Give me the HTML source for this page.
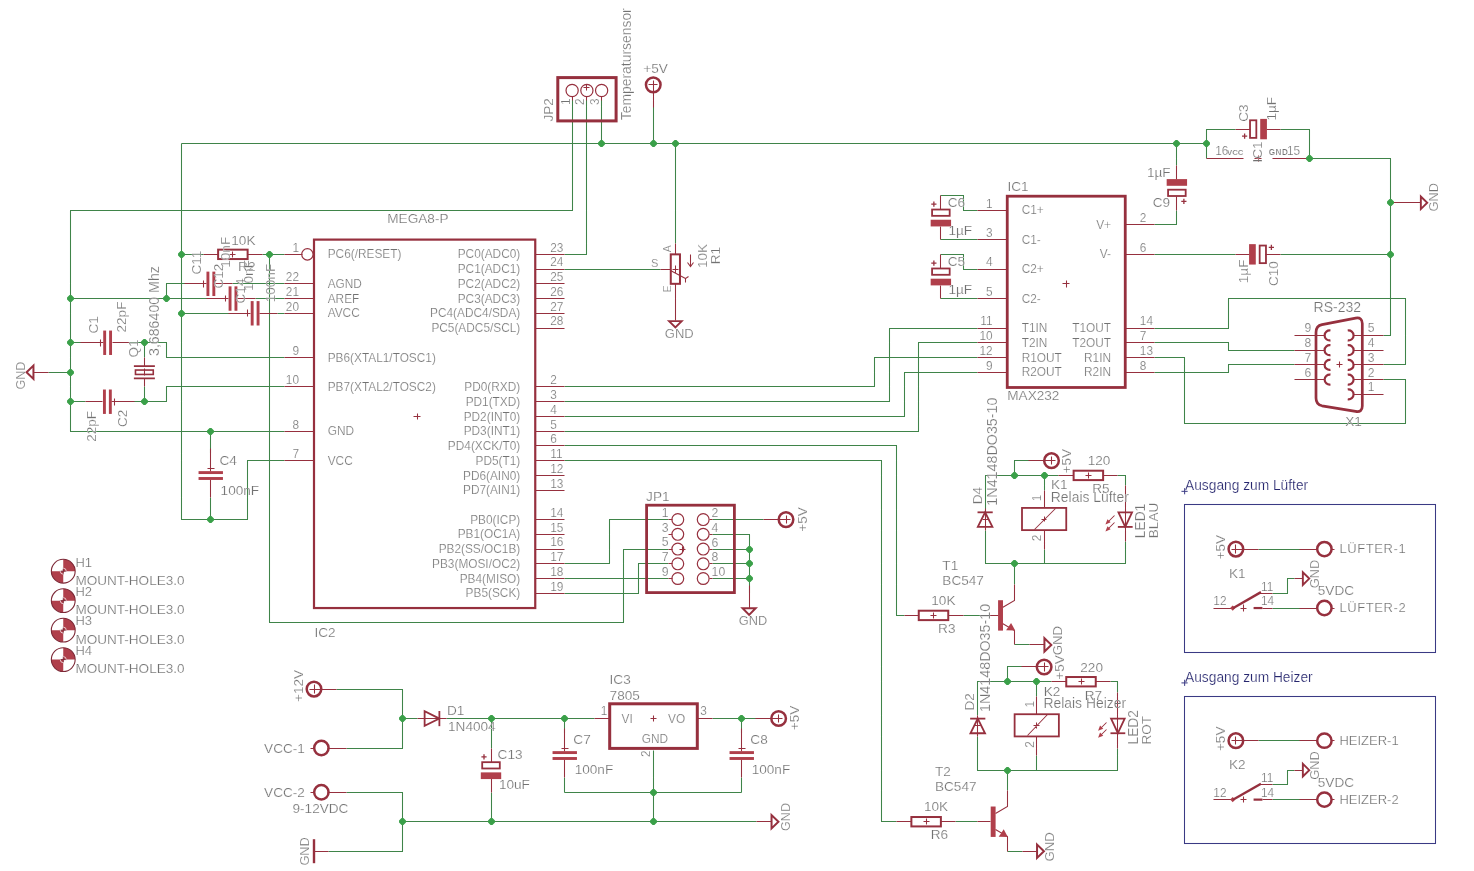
<!DOCTYPE html>
<html><head><meta charset="utf-8"><title>Schematic</title>
<style>
html,body{margin:0;padding:0;background:#fff;}
svg{display:block;font-family:"Liberation Sans",sans-serif;will-change:transform;}
</style></head><body>
<svg width="1474" height="871" viewBox="0 0 1474 871">
<rect width="1474" height="871" fill="#fff"/>
<path d="M572.5 99.5 L572.5 210.5 L70.5 210.5 L70.5 431.5 L284.5 431.5 M181.5 143.5 L181.5 519.5 L247.5 519.5 L247.5 460.5 L284.5 460.5 M210.5 431.5 L210.5 453.5 M210.5 497.5 L210.5 519.5 M181.5 254.5 L203.5 254.5 M262.5 254.5 L284.5 254.5 M269.5 254.5 L269.5 622.5 L623.5 622.5 L623.5 549.5 L668.5 549.5 M166.5 298.5 L166.5 283.5 L188.5 283.5 M232.5 283.5 L284.5 283.5 M70.5 298.5 L210.5 298.5 M255.5 298.5 L284.5 298.5 M181.5 313.5 L232.5 313.5 M277.5 313.5 L284.5 313.5 M70.5 342.5 L85.5 342.5 M129.5 342.5 L166.5 342.5 L166.5 357.5 L284.5 357.5 M70.5 401.5 L85.5 401.5 M129.5 401.5 L166.5 401.5 L166.5 386.5 L284.5 386.5 M144.5 342.5 L144.5 357.5 M144.5 386.5 L144.5 401.5 M70.5 372.5 L48.5 372.5 M586.5 99.5 L586.5 254.5 L564.5 254.5 M601.5 99.5 L601.5 143.5 M181.5 143.5 L1206.5 143.5 M653.5 106.5 L653.5 143.5 M675.5 143.5 L675.5 243.5 M564.5 269.5 L660.5 269.5 M668.5 519.5 L609.5 519.5 L609.5 563.5 L564.5 563.5 M668.5 563.5 L638.5 563.5 L638.5 593.5 L564.5 593.5 M668.5 578.5 L564.5 578.5 M712.5 519.5 L763.5 519.5 M712.5 534.5 L749.5 534.5 L749.5 593.5 M712.5 549.5 L749.5 549.5 M712.5 563.5 L749.5 563.5 M712.5 578.5 L749.5 578.5 M977.5 328.5 L889.5 328.5 L889.5 401.5 L564.5 401.5 M977.5 342.5 L918.5 342.5 L918.5 431.5 L564.5 431.5 M977.5 357.5 L874.5 357.5 L874.5 386.5 L564.5 386.5 M977.5 372.5 L904.5 372.5 L904.5 416.5 L564.5 416.5 M940.5 195.5 L963.5 195.5 L963.5 210.5 L977.5 210.5 M940.5 239.5 L977.5 239.5 M940.5 254.5 L963.5 254.5 L963.5 269.5 L977.5 269.5 M940.5 298.5 L977.5 298.5 M1154.5 224.5 L1176.5 224.5 L1176.5 210.5 M1176.5 165.5 L1176.5 143.5 M1206.5 158.5 L1206.5 129.5 L1235.5 129.5 M1280.5 129.5 L1309.5 129.5 L1309.5 158.5 M1309.5 158.5 L1390.5 158.5 L1390.5 335.5 L1383.5 335.5 M1154.5 254.5 L1235.5 254.5 M1280.5 254.5 L1390.5 254.5 M1383.5 364.5 L1405.5 364.5 L1405.5 298.5 L1228.5 298.5 L1228.5 328.5 L1154.5 328.5 M1383.5 379.5 L1405.5 379.5 L1405.5 423.5 L1184.5 423.5 L1184.5 357.5 L1154.5 357.5 M1294.5 350.5 L1228.5 350.5 L1228.5 342.5 L1154.5 342.5 M1294.5 364.5 L1228.5 364.5 L1228.5 372.5 L1154.5 372.5 M1029.5 460.5 L1014.5 460.5 L1014.5 475.5 M985.5 509.5 L985.5 475.5 L1058.5 475.5 M985.5 530.5 L985.5 563.5 L1125.5 563.5 L1125.5 541.5 M1044.5 475.5 L1044.5 490.5 M1044.5 549.5 L1044.5 563.5 M1117.5 475.5 L1125.5 475.5 L1125.5 485.5 M1014.5 584.5 L1014.5 563.5 M1014.5 644.5 L1029.5 644.5 M963.5 615.5 L985.5 615.5 M904.5 615.5 L896.5 615.5 L896.5 445.5 L564.5 445.5 M1022.5 666.5 L1007.5 666.5 L1007.5 681.5 M977.5 715.5 L977.5 681.5 L1051.5 681.5 M977.5 736.5 L977.5 770.5 L1117.5 770.5 L1117.5 748.5 M1036.5 681.5 L1036.5 696.5 M1036.5 755.5 L1036.5 770.5 M1110.5 681.5 L1117.5 681.5 L1117.5 692.5 M1007.5 790.5 L1007.5 770.5 M1007.5 851.5 L1022.5 851.5 M955.5 821.5 L977.5 821.5 M896.5 821.5 L881.5 821.5 L881.5 460.5 L564.5 460.5 M1258.5 549.5 L1302.5 549.5 M1272.5 593.5 L1287.5 593.5 L1287.5 578.5 L1294.5 578.5 M1272.5 608.5 L1302.5 608.5 M1258.5 740.5 L1302.5 740.5 M1272.5 784.5 L1287.5 784.5 L1287.5 770.5 L1294.5 770.5 M1272.5 799.5 L1302.5 799.5 M336.5 689.5 L402.5 689.5 L402.5 748.5 L346.5 748.5 M402.5 718.5 L417.5 718.5 M446.5 718.5 L594.5 718.5 M346.5 792.5 L402.5 792.5 L402.5 851.5 L328.5 851.5 M402.5 821.5 L756.5 821.5 M491.5 718.5 L491.5 748.5 M491.5 792.5 L491.5 821.5 M653.5 750.5 L653.5 821.5 M564.5 718.5 L564.5 733.5 M564.5 777.5 L564.5 792.5 M741.5 718.5 L741.5 733.5 M741.5 777.5 L741.5 792.5 M564.5 792.5 L741.5 792.5 M712.5 718.5 L756.5 718.5" fill="none" stroke="#3f8449" stroke-width="1.05"/>
<path d="M413.5 416.5 L420.5 416.5 M417.5 413.5 L417.5 419.5 M284.5 254.5 L302.5 254.5 M284.5 283.5 L314.5 283.5 M284.5 298.5 L314.5 298.5 M284.5 313.5 L314.5 313.5 M284.5 357.5 L314.5 357.5 M284.5 386.5 L314.5 386.5 M284.5 431.5 L314.5 431.5 M284.5 460.5 L314.5 460.5 M535.5 254.5 L564.5 254.5 M535.5 269.5 L564.5 269.5 M535.5 283.5 L564.5 283.5 M535.5 298.5 L564.5 298.5 M535.5 313.5 L564.5 313.5 M535.5 328.5 L564.5 328.5 M535.5 386.5 L564.5 386.5 M535.5 401.5 L564.5 401.5 M535.5 416.5 L564.5 416.5 M535.5 431.5 L564.5 431.5 M535.5 445.5 L564.5 445.5 M535.5 460.5 L564.5 460.5 M535.5 475.5 L564.5 475.5 M535.5 490.5 L564.5 490.5 M535.5 519.5 L564.5 519.5 M535.5 534.5 L564.5 534.5 M535.5 549.5 L564.5 549.5 M535.5 563.5 L564.5 563.5 M535.5 578.5 L564.5 578.5 M535.5 593.5 L564.5 593.5 M210.5 448.5 L210.5 471.5 M210.5 479.5 L210.5 497.5 M214.5 468.5 L207.5 468.5 M203.5 254.5 L218.5 254.5 M247.5 254.5 L262.5 254.5 M229.5 254.5 L235.5 254.5 M232.5 251.5 L232.5 257.5 M184.5 283.5 L206.5 283.5 M215.5 283.5 L232.5 283.5 M203.5 280.5 L203.5 287.5 M206.5 298.5 L228.5 298.5 M237.5 298.5 L255.5 298.5 M225.5 295.5 L225.5 301.5 M228.5 313.5 L250.5 313.5 M259.5 313.5 L277.5 313.5 M247.5 309.5 L247.5 316.5 M80.5 342.5 L103.5 342.5 M112.5 342.5 L129.5 342.5 M100.5 339.5 L100.5 346.5 M134.5 401.5 L111.5 401.5 M102.5 401.5 L85.5 401.5 M114.5 405.5 L114.5 398.5 M144.5 357.5 L144.5 366.5 M144.5 378.5 L144.5 386.5 M144.5 368.5 L144.5 375.5 M48.5 372.5 L33.5 372.5 M572.5 96.5 L572.5 100.5 M586.5 96.5 L586.5 100.5 M601.5 96.5 L601.5 100.5 M586.5 84.5 L586.5 90.5 M583.5 87.5 L589.5 87.5 M653.5 84.5 L653.5 107.5 M648.5 84.5 L657.5 84.5 M653.5 80.5 L653.5 89.5 M675.5 243.5 L675.5 254.5 M675.5 283.5 L675.5 298.5 M660.5 269.5 L670.5 269.5 M672.5 269.5 L678.5 269.5 M675.5 265.5 L675.5 272.5 M670.5 270.5 L685.5 278.5 M688.5 276.5 L685.5 278.5 L685.5 282.5 M690.5 254.5 L690.5 266.5 M687.5 262.5 L690.5 266.5 L693.5 262.5 M675.5 298.5 L675.5 320.5 M668.5 519.5 L672.5 519.5 M709.5 519.5 L712.5 519.5 M668.5 534.5 L672.5 534.5 M709.5 534.5 L712.5 534.5 M668.5 549.5 L672.5 549.5 M709.5 549.5 L712.5 549.5 M668.5 563.5 L672.5 563.5 M709.5 563.5 L712.5 563.5 M668.5 578.5 L672.5 578.5 M709.5 578.5 L712.5 578.5 M679.5 549.5 L685.5 549.5 M682.5 546.5 L682.5 552.5 M786.5 519.5 L763.5 519.5 M781.5 519.5 L790.5 519.5 M786.5 515.5 L786.5 523.5 M749.5 585.5 L749.5 608.5 M1062.5 283.5 L1069.5 283.5 M1066.5 280.5 L1066.5 287.5 M977.5 210.5 L1007.5 210.5 M977.5 239.5 L1007.5 239.5 M977.5 269.5 L1007.5 269.5 M977.5 298.5 L1007.5 298.5 M977.5 328.5 L1007.5 328.5 M977.5 342.5 L1007.5 342.5 M977.5 357.5 L1007.5 357.5 M977.5 372.5 L1007.5 372.5 M1125.5 224.5 L1154.5 224.5 M1125.5 254.5 L1154.5 254.5 M1125.5 328.5 L1154.5 328.5 M1125.5 342.5 L1154.5 342.5 M1125.5 357.5 L1154.5 357.5 M1125.5 372.5 L1154.5 372.5 M940.5 195.5 L940.5 209.5 M940.5 226.5 L940.5 239.5 M940.5 254.5 L940.5 268.5 M940.5 285.5 L940.5 298.5 M1176.5 210.5 L1176.5 196.5 M1176.5 179.5 L1176.5 165.5 M1235.5 129.5 L1250.5 129.5 M1266.5 129.5 L1280.5 129.5 M1206.5 158.5 L1243.5 158.5 M1272.5 158.5 L1309.5 158.5 M1254.5 158.5 L1261.5 158.5 M1258.5 155.5 L1258.5 161.5 M1390.5 202.5 L1405.5 202.5 M1390.5 202.5 L1420.5 202.5 M1280.5 254.5 L1265.5 254.5 M1249.5 254.5 L1235.5 254.5 M1336.5 364.5 L1342.5 364.5 M1339.5 361.5 L1339.5 367.5 M1383.5 335.5 L1353.5 335.5 M1383.5 350.5 L1353.5 350.5 M1383.5 364.5 L1353.5 364.5 M1383.5 379.5 L1353.5 379.5 M1383.5 394.5 L1353.5 394.5 M1294.5 335.5 L1324.5 335.5 M1294.5 350.5 L1324.5 350.5 M1294.5 364.5 L1324.5 364.5 M1294.5 379.5 L1324.5 379.5 M1051.5 460.5 L1028.5 460.5 M1047.5 460.5 L1055.5 460.5 M1051.5 456.5 L1051.5 464.5 M985.5 508.5 L985.5 530.5 M982.5 519.5 L988.5 519.5 M1044.5 490.5 L1044.5 507.5 M1044.5 530.5 L1044.5 549.5 M1034.5 529.5 L1055.5 508.5 M1041.5 519.5 L1046.5 519.5 M1044.5 516.5 L1044.5 521.5 M1058.5 475.5 L1073.5 475.5 M1103.5 475.5 L1117.5 475.5 M1085.5 475.5 L1091.5 475.5 M1088.5 472.5 L1088.5 478.5 M1125.5 485.5 L1125.5 541.5 M1114.5 515.5 L1108.5 521.5 M1114.5 522.5 L1108.5 528.5 M985.5 615.5 L998.5 615.5 M1002.5 607.5 L1014.5 600.5 L1014.5 584.5 M1002.5 623.5 L1014.5 630.5 L1014.5 644.5 M1029.5 644.5 L1044.5 644.5 M904.5 615.5 L918.5 615.5 M948.5 615.5 L963.5 615.5 M930.5 615.5 L936.5 615.5 M933.5 612.5 L933.5 618.5 M1044.5 666.5 L1021.5 666.5 M1039.5 666.5 L1048.5 666.5 M1044.5 662.5 L1044.5 671.5 M977.5 715.5 L977.5 736.5 M974.5 725.5 L980.5 725.5 M1036.5 696.5 L1036.5 714.5 M1036.5 736.5 L1036.5 755.5 M1027.5 735.5 L1047.5 714.5 M1033.5 725.5 L1039.5 725.5 M1036.5 722.5 L1036.5 728.5 M1051.5 681.5 L1066.5 681.5 M1095.5 681.5 L1110.5 681.5 M1078.5 681.5 L1084.5 681.5 M1081.5 678.5 L1081.5 684.5 M1117.5 692.5 L1117.5 748.5 M1106.5 722.5 L1100.5 728.5 M1106.5 729.5 L1100.5 735.5 M977.5 821.5 L990.5 821.5 M995.5 813.5 L1007.5 806.5 L1007.5 790.5 M995.5 829.5 L1007.5 836.5 L1007.5 851.5 M1022.5 851.5 L1036.5 851.5 M896.5 821.5 L911.5 821.5 M940.5 821.5 L955.5 821.5 M923.5 821.5 L929.5 821.5 M926.5 818.5 L926.5 824.5 M1235.5 549.5 L1258.5 549.5 M1231.5 549.5 L1240.5 549.5 M1235.5 544.5 L1235.5 553.5 M1317.5 549.5 L1299.5 549.5 M1334.5 549.5 L1331.5 549.5 M1213.5 608.5 L1232.5 608.5 M1258.5 593.5 L1272.5 593.5 M1262.5 608.5 L1272.5 608.5 M1240.5 608.5 L1246.5 608.5 M1243.5 604.5 L1243.5 611.5 M1294.5 578.5 L1302.5 578.5 M1317.5 608.5 L1299.5 608.5 M1334.5 608.5 L1331.5 608.5 M1235.5 740.5 L1258.5 740.5 M1231.5 740.5 L1240.5 740.5 M1235.5 736.5 L1235.5 744.5 M1317.5 740.5 L1299.5 740.5 M1334.5 740.5 L1331.5 740.5 M1213.5 799.5 L1232.5 799.5 M1258.5 784.5 L1272.5 784.5 M1262.5 799.5 L1272.5 799.5 M1240.5 799.5 L1246.5 799.5 M1243.5 796.5 L1243.5 802.5 M1294.5 770.5 L1302.5 770.5 M1317.5 799.5 L1299.5 799.5 M1334.5 799.5 L1331.5 799.5 M314.5 689.5 L336.5 689.5 M309.5 689.5 L318.5 689.5 M314.5 684.5 L314.5 693.5 M327.5 748.5 L346.5 748.5 M310.5 748.5 L314.5 748.5 M417.5 718.5 L446.5 718.5 M327.5 792.5 L346.5 792.5 M310.5 792.5 L314.5 792.5 M314.5 851.5 L328.5 851.5 M756.5 821.5 L771.5 821.5 M491.5 748.5 L491.5 762.5 M491.5 778.5 L491.5 792.5 M650.5 718.5 L656.5 718.5 M653.5 715.5 L653.5 721.5 M594.5 718.5 L609.5 718.5 M697.5 718.5 L712.5 718.5 M564.5 728.5 L564.5 751.5 M564.5 759.5 L564.5 777.5 M568.5 748.5 L561.5 748.5 M741.5 728.5 L741.5 751.5 M741.5 759.5 L741.5 777.5 M745.5 748.5 L738.5 748.5 M778.5 718.5 L755.5 718.5 M774.5 718.5 L782.5 718.5 M778.5 714.5 L778.5 722.5" fill="none" stroke="#96303e" stroke-width="1.05"/>
<g fill="#b03f4b" stroke="none">
<rect x="198.55" y="471.14" width="24.4" height="2.9"/>
<rect x="198.55" y="477.04" width="24.4" height="2.9"/>
<rect x="206.47" y="271.62" width="2.9" height="24.4"/>
<rect x="212.38" y="271.62" width="2.9" height="24.4"/>
<rect x="228.6" y="286.36" width="2.9" height="24.4"/>
<rect x="234.5" y="286.36" width="2.9" height="24.4"/>
<rect x="250.72" y="301.1" width="2.9" height="24.4"/>
<rect x="256.62" y="301.1" width="2.9" height="24.4"/>
<rect x="103.22" y="330.57" width="2.9" height="24.4"/>
<rect x="109.12" y="330.57" width="2.9" height="24.4"/>
<rect x="108.88" y="389.52" width="2.9" height="24.4"/>
<rect x="102.97" y="389.52" width="2.9" height="24.4"/>
<rect x="930.67" y="219.74" width="20.4" height="6.7"/>
<rect x="930.67" y="278.69" width="20.4" height="6.7"/>
<rect x="1166.67" y="179.1" width="20.4" height="6.7"/>
<rect x="1260.22" y="118.89" width="6.7" height="20.4"/>
<rect x="1249.08" y="244.15" width="6.7" height="20.4"/>
<path d="M1105.45 524.42 L1107.45 519.22 L1110.65 522.32 Z"/>
<path d="M1105.45 531.42 L1107.45 526.22 L1110.65 529.32 Z"/>
<rect x="998.08" y="600.21" width="4.9" height="30.4"/>
<path d="M1015.23 630.56 L1006.08 630.36 L1011.08 623.01 Z"/>
<path d="M1098.08 730.73 L1100.08 725.53 L1103.27 728.63 Z"/>
<path d="M1098.08 737.73 L1100.08 732.53 L1103.27 735.63 Z"/>
<rect x="990.7" y="806.52" width="4.9" height="30.4"/>
<path d="M1007.85 836.88 L998.7 836.68 L1003.7 829.33 Z"/>
<path d="M1230.12 608.04 l2.6 -2.6 l2.6 2.6 l-2.6 2.6 Z"/>
<path d="M1230.12 799.62 l2.6 -2.6 l2.6 2.6 l-2.6 2.6 Z"/>
<path d="M63.25 571.2 V559.3 A11.9 11.9 0 0 1 75.15 571.2 Z M63.25 571.2 V583.1 A11.9 11.9 0 0 1 51.35 571.2 Z"/>
<path d="M63.25 600.67 V588.77 A11.9 11.9 0 0 1 75.15 600.67 Z M63.25 600.67 V612.57 A11.9 11.9 0 0 1 51.35 600.67 Z"/>
<path d="M63.25 630.14 V618.24 A11.9 11.9 0 0 1 75.15 630.14 Z M63.25 630.14 V642.04 A11.9 11.9 0 0 1 51.35 630.14 Z"/>
<path d="M63.25 659.62 V647.72 A11.9 11.9 0 0 1 75.15 659.62 Z M63.25 659.62 V671.52 A11.9 11.9 0 0 1 51.35 659.62 Z"/>
<rect x="480.8" y="772.38" width="20.4" height="6.7"/>
<rect x="552.55" y="751.14" width="24.4" height="2.9"/>
<rect x="552.55" y="757.04" width="24.4" height="2.9"/>
<rect x="729.55" y="751.14" width="24.4" height="2.9"/>
<rect x="729.55" y="757.04" width="24.4" height="2.9"/>
</g>
<g fill="none" stroke="#96303e" stroke-linejoin="miter">
<rect x="314" y="239.61" width="221.25" height="368.43" stroke-width="2.2"/>
<rect x="218.12" y="249.65" width="29.5" height="9.4" stroke-width="2"/>
<path d="M133.88 366.05H154.88M133.88 378.45H154.88" stroke-width="1.8"/>
<rect x="135.47" y="370.05" width="17.8" height="4.4" stroke-width="1.6"/>
<path d="M33.45 378.95 L33.45 365.55 L26.55 372.25 Z" stroke-width="2" fill="none"/>
<rect x="557.8" y="77.6" width="58.3" height="43.3" stroke-width="3"/>
<circle cx="653.25" cy="84.87" r="7.3" stroke-width="2.5"/>
<rect x="670.77" y="254.35" width="9.2" height="29.47" stroke-width="2"/>
<path d="M669.08 321.1 L681.67 321.1 L675.38 327.5 Z" stroke-width="1.9" fill="none"/>
<rect x="646.6" y="505.2" width="87.8" height="87.4" stroke-width="2.8"/>
<circle cx="786" cy="519.62" r="7.3" stroke-width="2.5"/>
<path d="M742.62 608.3 L755.62 608.3 L749.12 614.9 Z" stroke-width="2" fill="none"/>
<rect x="1007.25" y="196.2" width="118" height="191.28" stroke-width="2.8"/>
<rect x="932.08" y="209.54" width="17.6" height="6.3" stroke-width="1.8"/>
<path d="M931.27 204.14H936.48M933.88 201.54V206.74" stroke-width="1.3"/>
<rect x="932.08" y="268.49" width="17.6" height="6.3" stroke-width="1.8"/>
<path d="M931.27 263.09H936.48M933.88 260.49V265.69" stroke-width="1.3"/>
<rect x="1168.08" y="189.7" width="17.6" height="6.3" stroke-width="1.8"/>
<path d="M1181.28 201.4H1186.47M1183.88 198.8V204" stroke-width="1.3"/>
<rect x="1250.03" y="120.29" width="6.3" height="17.6" stroke-width="1.8"/>
<path d="M1242.03 136.09H1247.22M1244.62 133.49V138.69" stroke-width="1.3"/>
<path d="M1420.85 196.47 L1420.85 209.07 L1427.25 202.77 Z" stroke-width="1.9" fill="none"/>
<rect x="1259.67" y="245.55" width="6.3" height="17.6" stroke-width="1.8"/>
<path d="M1268.78 247.35H1273.97M1271.38 244.75V249.95" stroke-width="1.3"/>
<path d="M1322 324.6 L1355.6 318.1 Q1362.3 317 1362.3 323.6 L1362.3 406 Q1362.3 412.6 1355.6 411.4 L1322 405.8 Q1316 404.6 1316 398 L1316 332.4 Q1316 325.8 1322 324.6 Z" stroke-width="2.7"/>
<path d="M1347.73 330.48 A5 5 0 1 1 1347.73 340.33" stroke-width="2.2"/>
<path d="M1347.73 345.22 A5 5 0 1 1 1347.73 355.06" stroke-width="2.2"/>
<path d="M1347.73 359.95 A5 5 0 1 1 1347.73 369.8" stroke-width="2.2"/>
<path d="M1347.73 374.69 A5 5 0 1 1 1347.73 384.54" stroke-width="2.2"/>
<path d="M1347.73 389.43 A5 5 0 1 1 1347.73 399.28" stroke-width="2.2"/>
<path d="M1330.47 330.48 A5 5 0 1 0 1330.47 340.33" stroke-width="2.2"/>
<path d="M1330.47 345.22 A5 5 0 1 0 1330.47 355.06" stroke-width="2.2"/>
<path d="M1330.47 359.95 A5 5 0 1 0 1330.47 369.8" stroke-width="2.2"/>
<path d="M1330.47 374.69 A5 5 0 1 0 1330.47 384.54" stroke-width="2.2"/>
<circle cx="1051.5" cy="460.67" r="7.3" stroke-width="2.5"/>
<path d="M977.83 526.92 L992.42 526.92 L985.12 512.32 Z" stroke-width="1.8" fill="none"/>
<path d="M977.52 512.32H992.73" stroke-width="1.8"/>
<rect x="1022" y="507.92" width="44.25" height="22.2" stroke-width="1.8"/>
<rect x="1073.62" y="470.7" width="29.5" height="9.4" stroke-width="2"/>
<path d="M1118.45 512.32 L1132.05 512.32 L1125.25 526.92 Z" stroke-width="1.8" fill="none"/>
<path d="M1117.85 526.92H1132.65" stroke-width="1.8"/>
<path d="M1044.42 638.18 L1044.42 651.58 L1051.33 644.88 Z" stroke-width="2" fill="none"/>
<rect x="918.75" y="610.71" width="29.5" height="9.4" stroke-width="2"/>
<circle cx="1044.12" cy="666.99" r="7.3" stroke-width="2.5"/>
<path d="M970.45 733.23 L985.05 733.23 L977.75 718.63 Z" stroke-width="1.8" fill="none"/>
<path d="M970.15 718.63H985.35" stroke-width="1.8"/>
<rect x="1014.62" y="714.23" width="44.25" height="22.2" stroke-width="1.8"/>
<rect x="1066.25" y="677.02" width="29.5" height="9.4" stroke-width="2"/>
<path d="M1111.08 718.63 L1124.67 718.63 L1117.88 733.23 Z" stroke-width="1.8" fill="none"/>
<path d="M1110.47 733.23H1125.28" stroke-width="1.8"/>
<path d="M1037.05 844.5 L1037.05 857.9 L1043.95 851.2 Z" stroke-width="2" fill="none"/>
<rect x="911.38" y="817.02" width="29.5" height="9.4" stroke-width="2"/>
<circle cx="1235.88" cy="549.09" r="7.3" stroke-width="2.5"/>
<circle cx="1324.38" cy="549.09" r="7.2" stroke-width="2.5"/>
<path d="M1232.92 608.24 L1260.95 592.1" stroke-width="2.4"/>
<path d="M1253.58 608.04H1262.42" stroke-width="2.2"/>
<path d="M1302.85 572.26 L1302.85 584.86 L1309.25 578.56 Z" stroke-width="1.9" fill="none"/>
<circle cx="1324.38" cy="608.04" r="7.2" stroke-width="2.5"/>
<circle cx="1235.88" cy="740.67" r="7.3" stroke-width="2.5"/>
<circle cx="1324.38" cy="740.67" r="7.2" stroke-width="2.5"/>
<path d="M1232.92 799.82 L1260.95 783.68" stroke-width="2.4"/>
<path d="M1253.58 799.62H1262.42" stroke-width="2.2"/>
<path d="M1302.85 763.85 L1302.85 776.44 L1309.25 770.14 Z" stroke-width="1.9" fill="none"/>
<circle cx="1324.38" cy="799.62" r="7.2" stroke-width="2.5"/>
<circle cx="314" cy="689.09" r="7.3" stroke-width="2.5"/>
<circle cx="321.38" cy="748.04" r="7.2" stroke-width="2.5"/>
<path d="M424.62 711.27 L424.62 725.87 L439.38 718.57 Z" stroke-width="1.8" fill="none"/>
<path d="M439.38 710.97V726.17" stroke-width="1.8"/>
<circle cx="321.38" cy="792.25" r="7.2" stroke-width="2.5"/>
<path d="M314 839.2V863.2" stroke-width="2.4"/>
<path d="M771.55 815.02 L771.55 828.43 L778.45 821.73 Z" stroke-width="2" fill="none"/>
<rect x="482.2" y="762.18" width="17.6" height="6.3" stroke-width="1.8"/>
<path d="M481.4 756.78H486.6M484 754.18V759.38" stroke-width="1.3"/>
<rect x="609.7" y="703.8" width="87.6" height="44.6" stroke-width="3"/>
<circle cx="778.62" cy="718.57" r="7.3" stroke-width="2.5"/>
</g>
<circle cx="307.4" cy="254.35" r="5.7" fill="none" stroke="#96303e" stroke-width="1.2"/>
<circle cx="572.12" cy="90.5" r="6.1" fill="none" stroke="#96303e" stroke-width="1.2"/>
<circle cx="586.88" cy="90.5" r="6.1" fill="none" stroke="#96303e" stroke-width="1.2"/>
<circle cx="601.62" cy="90.5" r="6.1" fill="none" stroke="#96303e" stroke-width="1.2"/>
<circle cx="677.8" cy="519.62" r="5.9" fill="none" stroke="#96303e" stroke-width="1.2"/>
<circle cx="703.2" cy="519.62" r="5.9" fill="none" stroke="#96303e" stroke-width="1.2"/>
<circle cx="677.8" cy="534.35" r="5.9" fill="none" stroke="#96303e" stroke-width="1.2"/>
<circle cx="703.2" cy="534.35" r="5.9" fill="none" stroke="#96303e" stroke-width="1.2"/>
<circle cx="677.8" cy="549.09" r="5.9" fill="none" stroke="#96303e" stroke-width="1.2"/>
<circle cx="703.2" cy="549.09" r="5.9" fill="none" stroke="#96303e" stroke-width="1.2"/>
<circle cx="677.8" cy="563.83" r="5.9" fill="none" stroke="#96303e" stroke-width="1.2"/>
<circle cx="703.2" cy="563.83" r="5.9" fill="none" stroke="#96303e" stroke-width="1.2"/>
<circle cx="677.8" cy="578.56" r="5.9" fill="none" stroke="#96303e" stroke-width="1.2"/>
<circle cx="703.2" cy="578.56" r="5.9" fill="none" stroke="#96303e" stroke-width="1.2"/>
<rect x="1184.5" y="504.5" width="251" height="148" fill="none" stroke="#3a3a84" stroke-width="1.05"/>
<path d="M1181.45 491.34H1187.65M1184.65 488.14V494.34" fill="none" stroke="#3a3a84" stroke-width="1"/>
<rect x="1184.5" y="696.5" width="251" height="147" fill="none" stroke="#3a3a84" stroke-width="1.05"/>
<path d="M1181.45 682.92H1187.65M1184.65 679.72V685.92" fill="none" stroke="#3a3a84" stroke-width="1"/>
<circle cx="63.25" cy="571.2" r="11.9" fill="none" stroke="#7c2836" stroke-width="1.1"/>
<path d="M59.85 571.2H66.65M63.25 567.8V574.6" fill="none" stroke="#7c2836" stroke-width="1"/>
<circle cx="63.25" cy="571.2" r="3" fill="none" stroke="#fff" stroke-opacity="0.8" stroke-width="0.9"/>
<circle cx="63.25" cy="600.67" r="11.9" fill="none" stroke="#7c2836" stroke-width="1.1"/>
<path d="M59.85 600.67H66.65M63.25 597.27V604.07" fill="none" stroke="#7c2836" stroke-width="1"/>
<circle cx="63.25" cy="600.67" r="3" fill="none" stroke="#fff" stroke-opacity="0.8" stroke-width="0.9"/>
<circle cx="63.25" cy="630.14" r="11.9" fill="none" stroke="#7c2836" stroke-width="1.1"/>
<path d="M59.85 630.14H66.65M63.25 626.74V633.54" fill="none" stroke="#7c2836" stroke-width="1"/>
<circle cx="63.25" cy="630.14" r="3" fill="none" stroke="#fff" stroke-opacity="0.8" stroke-width="0.9"/>
<circle cx="63.25" cy="659.62" r="11.9" fill="none" stroke="#7c2836" stroke-width="1.1"/>
<path d="M59.85 659.62H66.65M63.25 656.22V663.02" fill="none" stroke="#7c2836" stroke-width="1"/>
<circle cx="63.25" cy="659.62" r="3" fill="none" stroke="#fff" stroke-opacity="0.8" stroke-width="0.9"/>
<path d="M67.05 297.57 L69.57 295.05 L71.43 295.05 L73.95 297.57 L73.95 299.43 L71.43 301.95 L69.57 301.95 L67.05 299.43Z M67.05 341.57 L69.57 339.05 L71.43 339.05 L73.95 341.57 L73.95 343.43 L71.43 345.95 L69.57 345.95 L67.05 343.43Z M67.05 371.57 L69.57 369.05 L71.43 369.05 L73.95 371.57 L73.95 373.43 L71.43 375.95 L69.57 375.95 L67.05 373.43Z M67.05 400.57 L69.57 398.05 L71.43 398.05 L73.95 400.57 L73.95 402.43 L71.43 404.95 L69.57 404.95 L67.05 402.43Z M207.05 430.57 L209.57 428.05 L211.43 428.05 L213.95 430.57 L213.95 432.43 L211.43 434.95 L209.57 434.95 L207.05 432.43Z M178.05 253.57 L180.57 251.05 L182.43 251.05 L184.95 253.57 L184.95 255.43 L182.43 257.95 L180.57 257.95 L178.05 255.43Z M178.05 312.57 L180.57 310.05 L182.43 310.05 L184.95 312.57 L184.95 314.43 L182.43 316.95 L180.57 316.95 L178.05 314.43Z M207.05 518.57 L209.57 516.05 L211.43 516.05 L213.95 518.57 L213.95 520.43 L211.43 522.95 L209.57 522.95 L207.05 520.43Z M266.05 253.57 L268.57 251.05 L270.43 251.05 L272.95 253.57 L272.95 255.43 L270.43 257.95 L268.57 257.95 L266.05 255.43Z M163.05 297.57 L165.57 295.05 L167.43 295.05 L169.95 297.57 L169.95 299.43 L167.43 301.95 L165.57 301.95 L163.05 299.43Z M141.05 341.57 L143.57 339.05 L145.43 339.05 L147.95 341.57 L147.95 343.43 L145.43 345.95 L143.57 345.95 L141.05 343.43Z M141.05 400.57 L143.57 398.05 L145.43 398.05 L147.95 400.57 L147.95 402.43 L145.43 404.95 L143.57 404.95 L141.05 402.43Z M598.05 142.57 L600.57 140.05 L602.43 140.05 L604.95 142.57 L604.95 144.43 L602.43 146.95 L600.57 146.95 L598.05 144.43Z M650.05 142.57 L652.57 140.05 L654.43 140.05 L656.95 142.57 L656.95 144.43 L654.43 146.95 L652.57 146.95 L650.05 144.43Z M672.05 142.57 L674.57 140.05 L676.43 140.05 L678.95 142.57 L678.95 144.43 L676.43 146.95 L674.57 146.95 L672.05 144.43Z M746.05 548.57 L748.57 546.05 L750.43 546.05 L752.95 548.57 L752.95 550.43 L750.43 552.95 L748.57 552.95 L746.05 550.43Z M746.05 562.57 L748.57 560.05 L750.43 560.05 L752.95 562.57 L752.95 564.43 L750.43 566.95 L748.57 566.95 L746.05 564.43Z M746.05 577.57 L748.57 575.05 L750.43 575.05 L752.95 577.57 L752.95 579.43 L750.43 581.95 L748.57 581.95 L746.05 579.43Z M1173.05 142.57 L1175.57 140.05 L1177.43 140.05 L1179.95 142.57 L1179.95 144.43 L1177.43 146.95 L1175.57 146.95 L1173.05 144.43Z M1203.05 142.57 L1205.57 140.05 L1207.43 140.05 L1209.95 142.57 L1209.95 144.43 L1207.43 146.95 L1205.57 146.95 L1203.05 144.43Z M1306.05 157.57 L1308.57 155.05 L1310.43 155.05 L1312.95 157.57 L1312.95 159.43 L1310.43 161.95 L1308.57 161.95 L1306.05 159.43Z M1387.05 201.57 L1389.57 199.05 L1391.43 199.05 L1393.95 201.57 L1393.95 203.43 L1391.43 205.95 L1389.57 205.95 L1387.05 203.43Z M1387.05 253.57 L1389.57 251.05 L1391.43 251.05 L1393.95 253.57 L1393.95 255.43 L1391.43 257.95 L1389.57 257.95 L1387.05 255.43Z M1011.05 474.57 L1013.57 472.05 L1015.43 472.05 L1017.95 474.57 L1017.95 476.43 L1015.43 478.95 L1013.57 478.95 L1011.05 476.43Z M1041.05 474.57 L1043.57 472.05 L1045.43 472.05 L1047.95 474.57 L1047.95 476.43 L1045.43 478.95 L1043.57 478.95 L1041.05 476.43Z M1011.05 562.57 L1013.57 560.05 L1015.43 560.05 L1017.95 562.57 L1017.95 564.43 L1015.43 566.95 L1013.57 566.95 L1011.05 564.43Z M1004.05 680.57 L1006.57 678.05 L1008.43 678.05 L1010.95 680.57 L1010.95 682.43 L1008.43 684.95 L1006.57 684.95 L1004.05 682.43Z M1033.05 680.57 L1035.57 678.05 L1037.43 678.05 L1039.95 680.57 L1039.95 682.43 L1037.43 684.95 L1035.57 684.95 L1033.05 682.43Z M1004.05 769.57 L1006.57 767.05 L1008.43 767.05 L1010.95 769.57 L1010.95 771.43 L1008.43 773.95 L1006.57 773.95 L1004.05 771.43Z M399.05 717.57 L401.57 715.05 L403.43 715.05 L405.95 717.57 L405.95 719.43 L403.43 721.95 L401.57 721.95 L399.05 719.43Z M488.05 717.57 L490.57 715.05 L492.43 715.05 L494.95 717.57 L494.95 719.43 L492.43 721.95 L490.57 721.95 L488.05 719.43Z M561.05 717.57 L563.57 715.05 L565.43 715.05 L567.95 717.57 L567.95 719.43 L565.43 721.95 L563.57 721.95 L561.05 719.43Z M399.05 820.57 L401.57 818.05 L403.43 818.05 L405.95 820.57 L405.95 822.43 L403.43 824.95 L401.57 824.95 L399.05 822.43Z M488.05 820.57 L490.57 818.05 L492.43 818.05 L494.95 820.57 L494.95 822.43 L492.43 824.95 L490.57 824.95 L488.05 822.43Z M650.05 820.57 L652.57 818.05 L654.43 818.05 L656.95 820.57 L656.95 822.43 L654.43 824.95 L652.57 824.95 L650.05 822.43Z M650.05 791.57 L652.57 789.05 L654.43 789.05 L656.95 791.57 L656.95 793.43 L654.43 795.95 L652.57 795.95 L650.05 793.43Z M738.05 717.57 L740.57 715.05 L742.43 715.05 L744.95 717.57 L744.95 719.43 L742.43 721.95 L740.57 721.95 L738.05 719.43Z" fill="#3aa049"/>
<g fill="#727272" font-size="13.6" stroke="#fff" stroke-width="0.22">
<text x="387.3" y="223.2">MEGA8-P</text>
<text x="314.5" y="637">IC2</text>
<text x="299" y="251.75" text-anchor="end" font-size="11.85">1</text>
<text x="327.7" y="258.45" font-size="11.85">PC6(/RESET)</text>
<text x="299" y="281.22" text-anchor="end" font-size="11.85">22</text>
<text x="327.7" y="287.92" font-size="11.85">AGND</text>
<text x="299" y="295.96" text-anchor="end" font-size="11.85">21</text>
<text x="327.7" y="302.66" font-size="11.85">AREF</text>
<text x="299" y="310.7" text-anchor="end" font-size="11.85">20</text>
<text x="327.7" y="317.4" font-size="11.85">AVCC</text>
<text x="299" y="354.91" text-anchor="end" font-size="11.85">9</text>
<text x="327.7" y="361.61" font-size="11.85">PB6(XTAL1/TOSC1)</text>
<text x="299" y="384.38" text-anchor="end" font-size="11.85">10</text>
<text x="327.7" y="391.08" font-size="11.85">PB7(XTAL2/TOSC2)</text>
<text x="299" y="428.59" text-anchor="end" font-size="11.85">8</text>
<text x="327.7" y="435.29" font-size="11.85">GND</text>
<text x="299" y="458.07" text-anchor="end" font-size="11.85">7</text>
<text x="327.7" y="464.77" font-size="11.85">VCC</text>
<text x="550.25" y="251.75" font-size="11.85">23</text>
<text x="520.25" y="258.45" text-anchor="end" font-size="11.85">PC0(ADC0)</text>
<text x="550.25" y="266.49" font-size="11.85">24</text>
<text x="520.25" y="273.19" text-anchor="end" font-size="11.85">PC1(ADC1)</text>
<text x="550.25" y="281.22" font-size="11.85">25</text>
<text x="520.25" y="287.92" text-anchor="end" font-size="11.85">PC2(ADC2)</text>
<text x="550.25" y="295.96" font-size="11.85">26</text>
<text x="520.25" y="302.66" text-anchor="end" font-size="11.85">PC3(ADC3)</text>
<text x="550.25" y="310.7" font-size="11.85">27</text>
<text x="520.25" y="317.4" text-anchor="end" font-size="11.85">PC4(ADC4/SDA)</text>
<text x="550.25" y="325.44" font-size="11.85">28</text>
<text x="520.25" y="332.14" text-anchor="end" font-size="11.85">PC5(ADC5/SCL)</text>
<text x="550.25" y="384.38" font-size="11.85">2</text>
<text x="520.25" y="391.08" text-anchor="end" font-size="11.85">PD0(RXD)</text>
<text x="550.25" y="399.12" font-size="11.85">3</text>
<text x="520.25" y="405.82" text-anchor="end" font-size="11.85">PD1(TXD)</text>
<text x="550.25" y="413.86" font-size="11.85">4</text>
<text x="520.25" y="420.56" text-anchor="end" font-size="11.85">PD2(INT0)</text>
<text x="550.25" y="428.59" font-size="11.85">5</text>
<text x="520.25" y="435.29" text-anchor="end" font-size="11.85">PD3(INT1)</text>
<text x="550.25" y="443.33" font-size="11.85">6</text>
<text x="520.25" y="450.03" text-anchor="end" font-size="11.85">PD4(XCK/T0)</text>
<text x="550.25" y="458.07" font-size="11.85">11</text>
<text x="520.25" y="464.77" text-anchor="end" font-size="11.85">PD5(T1)</text>
<text x="550.25" y="472.8" font-size="11.85">12</text>
<text x="520.25" y="479.5" text-anchor="end" font-size="11.85">PD6(AIN0)</text>
<text x="550.25" y="487.54" font-size="11.85">13</text>
<text x="520.25" y="494.24" text-anchor="end" font-size="11.85">PD7(AIN1)</text>
<text x="550.25" y="517.02" font-size="11.85">14</text>
<text x="520.25" y="523.72" text-anchor="end" font-size="11.85">PB0(ICP)</text>
<text x="550.25" y="531.75" font-size="11.85">15</text>
<text x="520.25" y="538.45" text-anchor="end" font-size="11.85">PB1(OC1A)</text>
<text x="550.25" y="546.49" font-size="11.85">16</text>
<text x="520.25" y="553.19" text-anchor="end" font-size="11.85">PB2(SS/OC1B)</text>
<text x="550.25" y="561.23" font-size="11.85">17</text>
<text x="520.25" y="567.93" text-anchor="end" font-size="11.85">PB3(MOSI/OC2)</text>
<text x="550.25" y="575.96" font-size="11.85">18</text>
<text x="520.25" y="582.66" text-anchor="end" font-size="11.85">PB4(MISO)</text>
<text x="550.25" y="590.7" font-size="11.85">19</text>
<text x="520.25" y="597.4" text-anchor="end" font-size="11.85">PB5(SCK)</text>
<text x="219.4" y="464.5">C4</text>
<text x="220.6" y="494.7">100nF</text>
<text x="231.3" y="244.5">10K</text>
<text x="238.1" y="271.2">R2</text>
<text x="200.8" y="274.5" transform="rotate(-90 200.8 274.5)">C11</text>
<text x="223.2" y="288.5" transform="rotate(-90 223.2 288.5)">C12</text>
<text x="245" y="303.5" transform="rotate(-90 245 303.5)">C14</text>
<text x="230" y="267.8" transform="rotate(-90 230 267.8)">10nF</text>
<text x="252.8" y="291" transform="rotate(-90 252.8 291)">10nF</text>
<text x="274.9" y="302.3" transform="rotate(-90 274.9 302.3)">100nF</text>
<text x="98" y="333.6" transform="rotate(-90 98 333.6)">C1</text>
<text x="125.6" y="332.5" transform="rotate(-90 125.6 332.5)">22pF</text>
<text x="127.4" y="427" transform="rotate(-90 127.4 427)">C2</text>
<text x="95.6" y="441.8" transform="rotate(-90 95.6 441.8)">22pF</text>
<text x="137.8" y="357.5" transform="rotate(-90 137.8 357.5)">Q1</text>
<text x="159.3" y="356" font-size="14.2" transform="rotate(-90 159.3 356)">3,686400 Mhz</text>
<text x="25.1" y="389.6" font-size="12.6" transform="rotate(-90 25.1 389.6)">GND</text>
<text x="569.52" y="105" font-size="11.85" transform="rotate(-90 569.52 105)">1</text>
<text x="584.27" y="105" font-size="11.85" transform="rotate(-90 584.27 105)">2</text>
<text x="599.02" y="105" font-size="11.85" transform="rotate(-90 599.02 105)">3</text>
<text x="553.5" y="121.6" transform="rotate(-90 553.5 121.6)">JP2</text>
<text x="631.3" y="120.2" font-size="13.9" transform="rotate(-90 631.3 120.2)">Temperatursensor</text>
<text x="643.3" y="72.6">+5V</text>
<text x="651" y="266.6" font-size="11">S</text>
<text x="671.5" y="252.2" font-size="10.5" transform="rotate(-90 671.5 252.2)">A</text>
<text x="671.5" y="292.2" font-size="10.5" transform="rotate(-90 671.5 292.2)">E</text>
<text x="706.9" y="268" transform="rotate(-90 706.9 268)">10K</text>
<text x="720.3" y="264.2" transform="rotate(-90 720.3 264.2)">R1</text>
<text x="664.8" y="338.4" font-size="13">GND</text>
<text x="646.1" y="500.7">JP1</text>
<text x="668.6" y="517.02" text-anchor="end" font-size="12.25">1</text>
<text x="711.6" y="517.22" font-size="12.25">2</text>
<text x="668.6" y="531.75" text-anchor="end" font-size="12.25">3</text>
<text x="711.6" y="531.95" font-size="12.25">4</text>
<text x="668.6" y="546.49" text-anchor="end" font-size="12.25">5</text>
<text x="711.6" y="546.69" font-size="12.25">6</text>
<text x="668.6" y="561.23" text-anchor="end" font-size="12.25">7</text>
<text x="711.6" y="561.43" font-size="12.25">8</text>
<text x="668.6" y="575.96" text-anchor="end" font-size="12.25">9</text>
<text x="711.6" y="576.16" font-size="12.25">10</text>
<text x="807.4" y="531.8" transform="rotate(-90 807.4 531.8)">+5V</text>
<text x="738.7" y="625.4" font-size="12.8">GND</text>
<text x="1007.5" y="190.7">IC1</text>
<text x="1007.3" y="399.8">MAX232</text>
<text x="992.65" y="207.54" text-anchor="end" font-size="11.85">1</text>
<text x="1021.65" y="214.24" font-size="11.85">C1+</text>
<text x="992.65" y="237.01" text-anchor="end" font-size="11.85">3</text>
<text x="1021.65" y="243.71" font-size="11.85">C1-</text>
<text x="992.65" y="266.49" text-anchor="end" font-size="11.85">4</text>
<text x="1021.65" y="273.19" font-size="11.85">C2+</text>
<text x="992.65" y="295.96" text-anchor="end" font-size="11.85">5</text>
<text x="1021.65" y="302.66" font-size="11.85">C2-</text>
<text x="992.65" y="325.44" text-anchor="end" font-size="11.85">11</text>
<text x="1021.65" y="332.14" font-size="11.85">T1IN</text>
<text x="992.65" y="340.17" text-anchor="end" font-size="11.85">10</text>
<text x="1021.65" y="346.87" font-size="11.85">T2IN</text>
<text x="992.65" y="354.91" text-anchor="end" font-size="11.85">12</text>
<text x="1021.65" y="361.61" font-size="11.85">R1OUT</text>
<text x="992.65" y="369.65" text-anchor="end" font-size="11.85">9</text>
<text x="1021.65" y="376.35" font-size="11.85">R2OUT</text>
<text x="1139.85" y="222.28" font-size="11.85">2</text>
<text x="1111.05" y="228.98" text-anchor="end" font-size="11.85">V+</text>
<text x="1139.85" y="251.75" font-size="11.85">6</text>
<text x="1111.05" y="258.45" text-anchor="end" font-size="11.85">V-</text>
<text x="1139.85" y="325.44" font-size="11.85">14</text>
<text x="1111.05" y="332.14" text-anchor="end" font-size="11.85">T1OUT</text>
<text x="1139.85" y="340.17" font-size="11.85">7</text>
<text x="1111.05" y="346.87" text-anchor="end" font-size="11.85">T2OUT</text>
<text x="1139.85" y="354.91" font-size="11.85">13</text>
<text x="1111.05" y="361.61" text-anchor="end" font-size="11.85">R1IN</text>
<text x="1139.85" y="369.65" font-size="11.85">8</text>
<text x="1111.05" y="376.35" text-anchor="end" font-size="11.85">R2IN</text>
<text x="947.8" y="207.14">C6</text>
<text x="948.4" y="235.34">1µF</text>
<text x="947.8" y="266.09">C5</text>
<text x="948.4" y="294.29">1µF</text>
<text x="1146.9" y="177.3">1µF</text>
<text x="1152.8" y="206.9">C9</text>
<text x="1215.2" y="155.4" font-size="11.85">16</text>
<text x="1227" y="155.2" font-size="7.8" font-weight="bold">VCC</text>
<text x="1268.8" y="155.2" font-size="8.2" font-weight="bold" letter-spacing="0.4">GND</text>
<text x="1287" y="155.4" font-size="11.85">15</text>
<text x="1262" y="162.5" transform="rotate(-90 1262 162.5)">IC1</text>
<text x="1247.6" y="121.8" transform="rotate(-90 1247.6 121.8)">C3</text>
<text x="1276.4" y="120.6" transform="rotate(-90 1276.4 120.6)">1µF</text>
<text x="1438.2" y="211.5" font-size="12.8" transform="rotate(-90 1438.2 211.5)">GND</text>
<text x="1247.6" y="283.2" transform="rotate(-90 1247.6 283.2)">1µF</text>
<text x="1277.8" y="286" transform="rotate(-90 1277.8 286)">C10</text>
<text x="1313.6" y="311.5" font-size="14">RS-232</text>
<text x="1345.3" y="425.5">X1</text>
<text x="1367.7" y="332.4" font-size="12.15">5</text>
<text x="1367.7" y="347.14" font-size="12.15">4</text>
<text x="1367.7" y="361.88" font-size="12.15">3</text>
<text x="1367.7" y="376.62" font-size="12.15">2</text>
<text x="1367.7" y="391.35" font-size="12.15">1</text>
<text x="1304.6" y="332.4" font-size="12.15">9</text>
<text x="1304.6" y="347.14" font-size="12.15">8</text>
<text x="1304.6" y="361.88" font-size="12.15">7</text>
<text x="1304.6" y="376.62" font-size="12.15">6</text>
<text x="1071.3" y="473.47" transform="rotate(-90 1071.3 473.47)">+5V</text>
<text x="981.52" y="504.22" transform="rotate(-90 981.52 504.22)">D4</text>
<text x="997.12" y="505.62" font-size="14.3" transform="rotate(-90 997.12 505.62)">1N4148DO35-10</text>
<text x="1040.92" y="501.22" font-size="11.85" transform="rotate(-90 1040.92 501.22)">1</text>
<text x="1040.92" y="541.32" font-size="11.85" transform="rotate(-90 1040.92 541.32)">2</text>
<text x="1051.03" y="489.22">K1</text>
<text x="1050.83" y="501.72" font-size="13.9">Relais Lüfter</text>
<text x="1087.67" y="465.2">120</text>
<text x="1092.17" y="493.2">R5</text>
<text x="1145.25" y="538.22" font-size="13.8" transform="rotate(-90 1145.25 538.22)">LED1</text>
<text x="1158.05" y="538.22" transform="rotate(-90 1158.05 538.22)">BLAU</text>
<text x="1061.67" y="655.28" font-size="13.2" transform="rotate(-90 1061.67 655.28)">GND</text>
<text x="942.35" y="569.61">T1</text>
<text x="942.35" y="585.01">BC547</text>
<text x="931.3" y="605.01">10K</text>
<text x="938.1" y="632.81">R3</text>
<text x="1063.92" y="679.79" transform="rotate(-90 1063.92 679.79)">+5V</text>
<text x="974.15" y="710.53" transform="rotate(-90 974.15 710.53)">D2</text>
<text x="989.75" y="711.93" font-size="14.3" transform="rotate(-90 989.75 711.93)">1N4148DO35-10</text>
<text x="1033.55" y="707.53" font-size="11.85" transform="rotate(-90 1033.55 707.53)">1</text>
<text x="1033.55" y="747.63" font-size="11.85" transform="rotate(-90 1033.55 747.63)">2</text>
<text x="1043.65" y="695.53">K2</text>
<text x="1043.45" y="708.03" font-size="13.9">Relais Heizer</text>
<text x="1080.3" y="671.52">220</text>
<text x="1084.8" y="699.52">R7</text>
<text x="1137.88" y="744.53" font-size="13.8" transform="rotate(-90 1137.88 744.53)">LED2</text>
<text x="1150.67" y="744.53" transform="rotate(-90 1150.67 744.53)">ROT</text>
<text x="1054.3" y="861.6" font-size="13.2" transform="rotate(-90 1054.3 861.6)">GND</text>
<text x="934.98" y="775.93">T2</text>
<text x="934.98" y="791.33">BC547</text>
<text x="923.92" y="811.33">10K</text>
<text x="930.73" y="839.12">R6</text>
<text x="1185.05" y="489.94" font-size="13.75" fill="#26266e" stroke-width="0.2">Ausgang zum Lüfter</text>
<text x="1224.67" y="559.49" transform="rotate(-90 1224.67 559.49)">+5V</text>
<text x="1339.38" y="553.39" font-size="13" letter-spacing="0.6">LÜFTER-1</text>
<text x="1228.88" y="577.89">K1</text>
<text x="1319.45" y="588.16" font-size="12.8" transform="rotate(-90 1319.45 588.16)">GND</text>
<text x="1339.38" y="612.34" font-size="13" letter-spacing="0.6">LÜFTER-2</text>
<text x="1213.35" y="605.24" font-size="11.85">12</text>
<text x="1260.95" y="590.5" font-size="11.85">11</text>
<text x="1260.95" y="605.24" font-size="11.85">14</text>
<text x="1317.8" y="595.24">5VDC</text>
<text x="1185.05" y="681.52" font-size="13.75" fill="#26266e" stroke-width="0.2">Ausgang zum Heizer</text>
<text x="1224.67" y="751.07" transform="rotate(-90 1224.67 751.07)">+5V</text>
<text x="1339.38" y="744.97" font-size="13">HEIZER-1</text>
<text x="1228.88" y="769.47">K2</text>
<text x="1319.45" y="779.75" font-size="12.8" transform="rotate(-90 1319.45 779.75)">GND</text>
<text x="1339.38" y="803.92" font-size="13">HEIZER-2</text>
<text x="1213.35" y="796.82" font-size="11.85">12</text>
<text x="1260.95" y="782.08" font-size="11.85">11</text>
<text x="1260.95" y="796.82" font-size="11.85">14</text>
<text x="1317.8" y="786.82">5VDC</text>
<text x="75.4" y="566.5" font-size="13">H1</text>
<text x="75.4" y="584.7" font-size="13.55">MOUNT-HOLE3.0</text>
<text x="75.4" y="595.97" font-size="13">H2</text>
<text x="75.4" y="614.17" font-size="13.55">MOUNT-HOLE3.0</text>
<text x="75.4" y="625.44" font-size="13">H3</text>
<text x="75.4" y="643.64" font-size="13.55">MOUNT-HOLE3.0</text>
<text x="75.4" y="654.92" font-size="13">H4</text>
<text x="75.4" y="673.12" font-size="13.55">MOUNT-HOLE3.0</text>
<text x="303" y="702" transform="rotate(-90 303 702)">+12V</text>
<text x="264.1" y="752.8">VCC-1</text>
<text x="446.9" y="714.7">D1</text>
<text x="448" y="731.2">1N4004</text>
<text x="264.1" y="797.2">VCC-2</text>
<text x="292.5" y="812.6">9-12VDC</text>
<text x="309" y="865.6" font-size="12.8" transform="rotate(-90 309 865.6)">GND</text>
<text x="789.5" y="831" font-size="12.6" transform="rotate(-90 789.5 831)">GND</text>
<text x="497.6" y="759.1">C13</text>
<text x="498.9" y="789.1">10uF</text>
<text x="600.7" y="715.2" font-size="11.85">1</text>
<text x="700.2" y="715.2" font-size="11.85">3</text>
<text x="649.5" y="757" font-size="11.85" transform="rotate(-90 649.5 757)">2</text>
<text x="621.5" y="722.6" font-size="11.85">VI</text>
<text x="668" y="722.6" font-size="11.85">VO</text>
<text x="641.8" y="742.6" font-size="11.85">GND</text>
<text x="609.6" y="684.3">IC3</text>
<text x="609.6" y="699.5">7805</text>
<text x="573.35" y="744.4">C7</text>
<text x="574.65" y="774.4">100nF</text>
<text x="750.35" y="744.4">C8</text>
<text x="751.65" y="774.4">100nF</text>
<text x="799.2" y="730.2" transform="rotate(-90 799.2 730.2)">+5V</text>
</g>
</svg>
</body></html>
